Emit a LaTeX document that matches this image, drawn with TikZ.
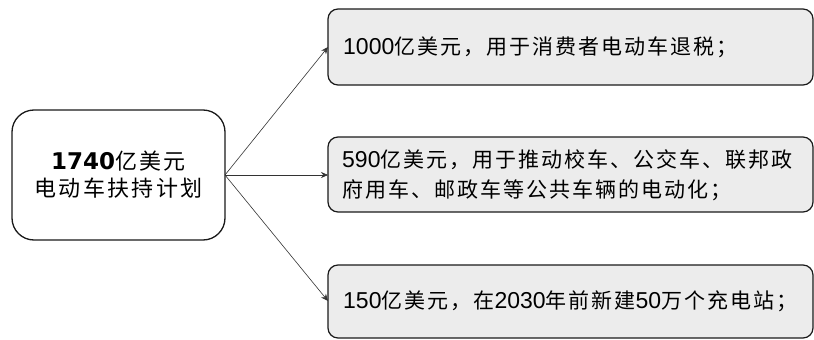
\documentclass[tikz,border=0pt]{standalone}
\usepackage{fontspec}
\usetikzlibrary{arrows.meta}
\newfontfamily\cjk{Noto Sans CJK SC}[LetterSpace=9.5]
\newfontfamily\cjkt{Noto Sans CJK SC}[LetterSpace=11]
\newfontfamily\dg{Liberation Sans}
\newfontfamily\dgb{DejaVu Sans}[BoldFont={DejaVu Sans Bold}]
\newcommand{\nm}[1]{{\dg\fontsize{23}{30}\selectfont #1}}
\definecolor{boxfill}{HTML}{ECECEC}
\definecolor{edge}{HTML}{1A1A1A}
\tikzset{
  mainbox/.style={draw=edge, line width=1.3pt, rounded corners=22pt, fill=white},
  itembox/.style={draw=edge, line width=1.2pt, rounded corners=10pt, fill=boxfill},
  itemtext/.style={anchor=west, align=left, inner sep=0pt, font=\cjk\fontsize{21}{30}\selectfont},
  link/.style={draw=black!80, line width=0.6pt, -{Stealth[length=7pt,width=6pt]}}
}
\begin{document}
\begin{tikzpicture}[x=1pt,y=-1pt]
\useasboundingbox (0,0) rectangle (814,340);
% left main box
\draw[mainbox] (12,110) rectangle (225,240);
\node[align=center, inner sep=0pt, font=\cjkt\fontsize{22}{27}\selectfont] (main) at (118.5,175)
  {{\dgb\bfseries\fontsize{23}{27}\selectfont 1740}亿美元\\电动车扶持计划};
\coordinate (src) at (225,175);
% right boxes
\draw[itembox] (328,9) rectangle (813,85);
\coordinate (t1) at (328,47);
\node[itemtext] (n1) at (343,47) {\nm{1000}亿美元，用于消费者电动车退税；};
\draw[itembox] (328,137) rectangle (813,212);
\coordinate (t2) at (328,175);
\node[itemtext] (n2) at (342,175) {\nm{590}亿美元，用于推动校车、公交车、联邦政\\府用车、邮政车等公共车辆的电动化；};
\draw[itembox] (328,265) rectangle (813,338);
\coordinate (t3) at (328,301);
\node[itemtext] (n3) at (343,301) {\nm{150}亿美元，在\nm{2030}年前新建\nm{50}万个充电站；};
% connectors
\draw[link] (src) -- (t1);
\draw[link] (src) -- (t2);
\draw[link] (src) -- (t3);
\end{tikzpicture}
\end{document}
